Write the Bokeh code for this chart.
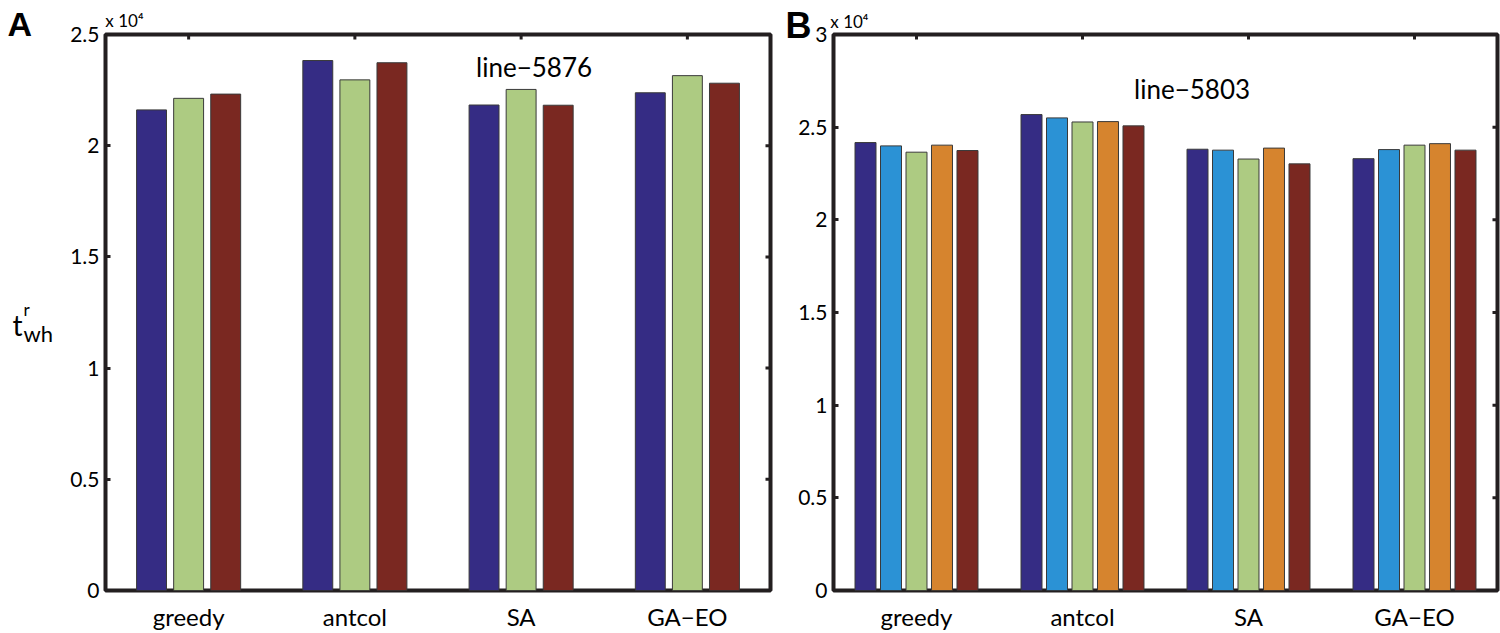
import numpy as np
from bokeh.plotting import figure
from bokeh.models import Range1d, FixedTicker, LinearAxis, Label, Title, ColumnDataSource
from bokeh.core.properties import value
from bokeh.layouts import row
from bokeh.embed import file_html
from bokeh.resources import INLINE

categories = ["greedy", "antcol", "SA", "GA\u2212EO"]

# panel A: line-5876, three runs per method
a_run1 = [21610, 23830, 21830, 22380]
a_run2 = [22130, 22960, 22530, 23150]
a_run3 = [22320, 23730, 21820, 22810]

# panel B: line-5803, five runs per method
b_run1 = [24170, 25680, 23810, 23300]
b_run2 = [23990, 25500, 23760, 23790]
b_run3 = [23650, 25280, 23280, 24030]
b_run4 = [24030, 25300, 23870, 24110]
b_run5 = [23740, 25070, 23020, 23760]

a_yticks = [0, 5000, 10000, 15000, 20000, 25000]
a_ylabels = ["0", "0.5", "1", "1.5", "2", "2.5"]
b_yticks = [0, 5000, 10000, 15000, 20000, 25000, 30000]
b_ylabels = ["0", "0.5", "1", "1.5", "2", "2.5", "3"]
exponent = "x 10\u2074"

BLUE = "#352c84"
LBLUE = "#2b92d5"
GREEN = "#adcb82"
ORANGE = "#d6842e"
RED = "#7a2821"
FRAME = "#231f20"
FONT = "Lato"
H = 633
TOP, BOTTOM = 34, 36   # borders above and below the frames (the row aligns them)


def make_panel(runs, colors, ymax, yticks, ylabels, width, bl, br, pitch, bar_w):
    p = figure(width=width, height=H, x_range=Range1d(0.5, 4.5), y_range=Range1d(0, ymax),
               output_backend="svg", toolbar_location=None,
               min_border_left=bl, min_border_right=br, min_border_top=TOP, min_border_bottom=BOTTOM)
    p.background_fill_color = "white"
    p.border_fill_color = "white"
    p.outline_line_color = FRAME
    p.outline_line_width = 4
    p.xgrid.visible = False
    p.ygrid.visible = False

    xs = np.arange(1, len(categories) + 1)
    n = len(runs)
    for i, (vals, col) in enumerate(zip(runs, colors)):
        off = (i - (n - 1) / 2) * pitch
        src = ColumnDataSource(data={'x': xs + off, 'top': vals})
        p.vbar(x='x', top='top', width=bar_w, bottom=0, source=src,
               fill_color=col, line_color="#3a3a3a", line_width=1)

    # inward tick marks on the top and right edges (half of each dash is clipped by the frame)
    p.scatter(xs, [ymax] * len(xs), marker="dash", angle=np.pi / 2, size=10,
              line_width=3, line_color=FRAME)
    p.scatter([4.5] * len(yticks), yticks, marker="dash", size=10,
              line_width=3, line_color=FRAME)

    p.xaxis.ticker = FixedTicker(ticks=list(xs))
    p.xaxis.major_label_overrides = {int(k): c for k, c in zip(xs, categories)}
    p.xaxis.major_tick_in = 0
    p.xaxis.major_tick_out = 0
    p.xaxis.minor_tick_line_color = None
    p.xaxis.axis_line_color = None
    p.xaxis.major_label_standoff = 11
    p.xaxis.major_label_text_font = FONT
    p.xaxis.major_label_text_font_size = "24px"
    p.xaxis.major_label_text_color = "black"

    p.yaxis.ticker = FixedTicker(ticks=yticks)
    p.yaxis.major_label_overrides = {t: l for t, l in zip(yticks, ylabels)}
    p.yaxis.major_tick_in = 5
    p.yaxis.major_tick_out = 0
    p.yaxis.major_tick_line_width = 3
    p.yaxis.major_tick_line_color = FRAME
    p.yaxis.minor_tick_line_color = None
    p.yaxis.axis_line_color = None
    p.yaxis.major_label_standoff = 6
    p.yaxis.major_label_text_font = FONT
    p.yaxis.major_label_text_font_size = "21px"
    p.yaxis.major_label_text_color = "black"
    return p


def letter_title(letter, offset, size, standoff):
    return Title(text=letter, align="left", offset=offset, vertical_align="bottom",
                 standoff=standoff, text_font="Liberation Sans", text_font_style="bold",
                 text_font_size=size, text_color="black")


def exponent_axis(x, standoff):
    # "x 10^4" above the top-left corner, as the only label of a top axis
    return LinearAxis(ticker=FixedTicker(ticks=[x]), major_label_overrides={x: exponent},
                      major_label_text_font=FONT, major_label_text_font_size="17px",
                      major_label_text_color="black", major_label_standoff=standoff,
                      major_tick_in=0, major_tick_out=0, minor_tick_line_color=None,
                      axis_line_color=None)


pa = make_panel([a_run1, a_run2, a_run3], [BLUE, GREEN, RED], 25000, a_yticks, a_ylabels,
                718, 41, 12, 0.223, 0.18)
pb = make_panel([b_run1, b_run2, b_run3, b_run4, b_run5], [BLUE, LBLUE, GREEN, ORANGE, RED],
                30000, b_yticks, b_ylabels, 718, 51, 3, 0.1536, 0.1265)

pa.add_layout(Label(x=3.078, y=23546, text="line\u22125876", text_font=FONT, text_font_size="26px",
                    text_align="center", text_baseline="middle", text_color="black"))
pb.add_layout(Label(x=2.66, y=27074, text="line\u22125803", text_font=FONT, text_font_size="26px",
                    text_align="center", text_baseline="middle", text_color="black"))

pa.add_layout(exponent_axis(0.614, 4), "above")
# panel letter B, pulled down beside the top-left corner, then the exponent above it
pb.add_layout(letter_title("B", -48, "36px", -22), "above")
pb.add_layout(exponent_axis(0.596, -18), "above")

# left strip: panel letter A (title) and the y label t^r_wh
# its frame is aligned with the panels' frames, page y 34..597
FRAME_H = H - TOP - BOTTOM
strip = figure(width=64, height=H, x_range=Range1d(0, 64), y_range=Range1d(0, FRAME_H),
               x_axis_type=None, y_axis_type=None, output_backend="svg", toolbar_location=None,
               min_border_left=0, min_border_right=0, min_border_top=TOP, min_border_bottom=BOTTOM)
strip.title = letter_title("A", 7, "34px", -17)
strip.outline_line_color = None
strip.grid.visible = False
base = H - BOTTOM
strip.text(x=[12], y=[base - 328], text=["t"], text_font=value(FONT), text_font_size="28px",
           text_baseline="alphabetic", text_align="left", text_color="black")
strip.text(x=[23], y=[base - 312], text=["r"], text_font=value(FONT), text_font_size="17px",
           text_baseline="alphabetic", text_align="left", text_color="black")
strip.text(x=[23], y=[base - 337], text=["wh"], text_font=value(FONT), text_font_size="22px",
           text_baseline="alphabetic", text_align="left", text_color="black")

layout = row(strip, pa, pb)
open("out.html", "w").write(file_html(layout, INLINE))
